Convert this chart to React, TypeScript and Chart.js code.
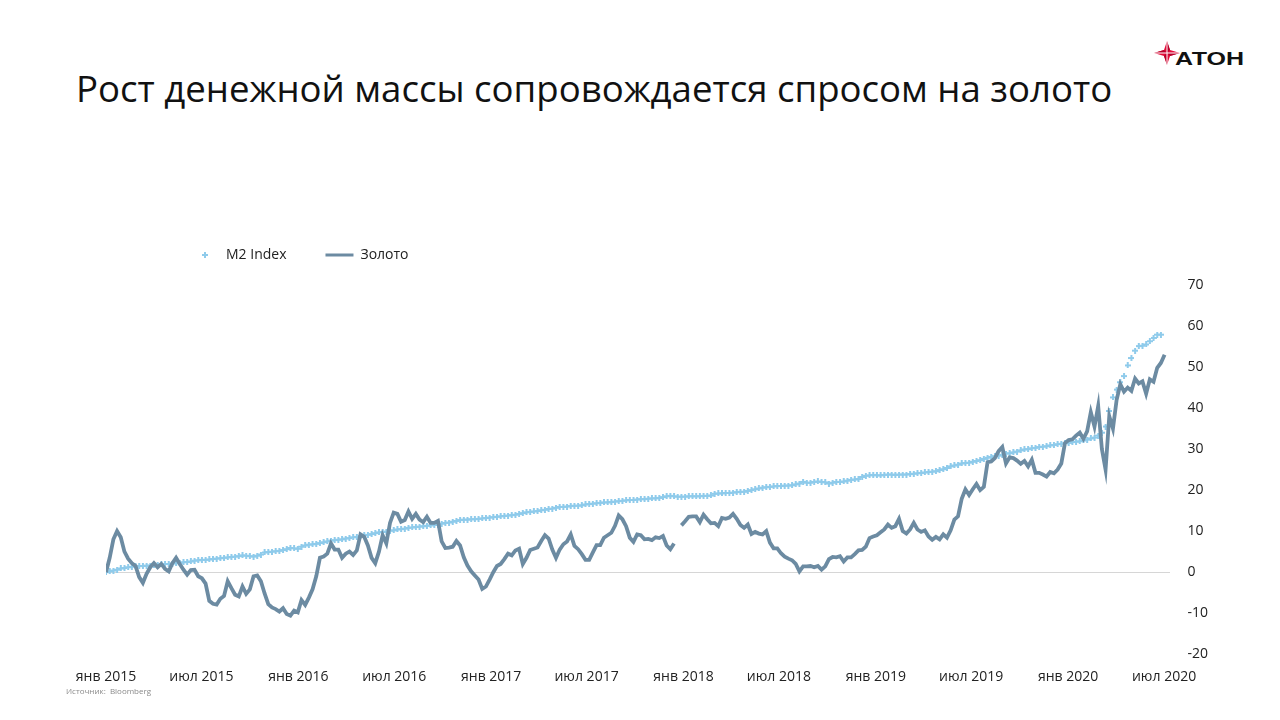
import React, { useEffect, useRef } from 'react';
import { Chart, registerables } from 'chart.js';

Chart.register(...registerables);

const FONT = '"Open Sans", "Noto Sans", sans-serif';

const titleText = 'Рост денежной массы сопровождается спросом на золото';
const sourceText = 'Источник:  Bloomberg';
const seriesNames = ['M2 Index', 'Золото'];

// x-axis ticks: first day of month (year, month index)
const tickMonths: [number, number][] = [
  [2015, 0], [2015, 6], [2016, 0], [2016, 6], [2017, 0], [2017, 6],
  [2018, 0], [2018, 6], [2019, 0], [2019, 6], [2020, 0], [2020, 6],
];
const tickLabels = [
  'янв 2015', 'июл 2015', 'янв 2016', 'июл 2016', 'янв 2017', 'июл 2017',
  'янв 2018', 'июл 2018', 'янв 2019', 'июл 2019', 'янв 2020', 'июл 2020',
];
const yTicks = [-20, -10, 0, 10, 20, 30, 40, 50, 60, 70];

// weekly observations from the first week of 2015, % change since start
const goldValues: (number | null)[] = [
  0, 3.5, 8, 10, 8.5, 5, 3.3, 2.2, 1.5, -1.2,
  -2.6, -0.4, 1.2, 2.2, 1.2, 2.0, 0.8, 0.2, 2.2, 3.5,
  2.0, 0.6, -0.6, 0.5, 0.6, -1.0, -1.5, -2.8, -7.0, -7.7,
  -7.9, -6.5, -5.8, -2.2, -3.9, -5.5, -5.9, -3.5, -5.3, -4.2,
  -1.0, -0.8, -2.2, -5.2, -7.8, -8.6, -9.0, -9.6, -8.8, -10.2,
  -10.6, -9.4, -9.8, -6.8, -8.0, -6.2, -4.2, -1.0, 3.5, 3.8,
  4.5, 7.0, 5.5, 5.5, 3.5, 4.5, 5.0, 4.2, 5.3, 9.2,
  8.6, 6.5, 3.5, 2.2, 5.0, 9.0, 7.0, 12.0, 14.5, 14.2,
  12.3, 12.7, 14.8, 13.0, 14.2, 12.8, 12.2, 13.5, 12.0, 12.0,
  12.5, 7.5, 5.9, 6.0, 6.2, 7.6, 6.5, 3.6, 1.6, 0.2,
  -0.8, -1.8, -4.1, -3.5, -1.8, 0, 1.5, 2.0, 3.2, 4.5,
  4.1, 5.3, 5.7, 2.0, 3.5, 5.4, 5.7, 6.0, 7.6, 9.0,
  8.2, 5.5, 3.5, 5.5, 6.8, 7.5, 9.2, 6.4, 5.6, 4.4,
  3.0, 3.0, 4.8, 6.6, 6.6, 8.4, 9.0, 9.6, 11.3, 13.8,
  12.9, 11.2, 8.4, 7.4, 9.2, 9.0, 8.0, 8.1, 7.8, 8.5,
  8.3, 8.8, 6.5, 5.6, 7.0, null, 11.4, 12.4, 13.5, 13.6,
  13.6, 12.2, 14.0, 12.9, 11.9, 12.0, 11.2, 13.2, 13.0, 13.3,
  14.2, 13.0, 11.5, 10.8, 11.6, 9.3, 9.8, 9.4, 9.2, 10.0,
  7.2, 5.8, 5.8, 4.6, 3.8, 3.3, 2.9, 2.0, 0.2, 1.4,
  1.4, 1.5, 1.2, 1.5, 0.6, 1.4, 3.2, 3.7, 3.6, 3.9,
  2.6, 3.6, 3.6, 4.4, 5.3, 5.4, 6.2, 8.3, 8.7, 9.0,
  9.7, 10.4, 11.6, 10.8, 11.2, 13.0, 10.0, 9.4, 10.4, 12.0,
  10.4, 9.8, 10.2, 8.7, 7.9, 8.6, 8.0, 9.2, 8.4, 10.2,
  12.8, 13.6, 17.9, 20.2, 18.8, 20.2, 21.5, 20.0, 20.8, 26.8,
  27.0, 27.8, 29.5, 30.5, 26.5, 28.0, 27.8, 27.2, 26.4, 27.1,
  25.8, 27.4, 24.2, 24.2, 23.8, 23.3, 24.4, 24.1, 25.0, 26.5,
  31.5, 32.2, 32.4, 33.3, 34.0, 32.5, 34.3, 39.0, 35.5, 40.5,
  30.0, 25.0, 38.0, 35.0, 42.0, 45.8, 44.0, 45.0, 44.2, 47.2,
  46.0, 46.5, 43.5, 47.0, 46.4, 49.8, 51.0, 53.0,
];

const m2Values: number[] = [
  0.0, 0.2, 0.4, 0.6, 0.9, 1.0, 1.2, 1.3, 1.4, 1.5,
  1.5, 1.6, 1.6, 1.7, 1.8, 1.9, 2.0, 2.0, 2.1, 2.2,
  2.3, 2.4, 2.5, 2.6, 2.8, 2.9, 3.0, 3.0, 3.1, 3.2,
  3.3, 3.4, 3.5, 3.6, 3.7, 3.8, 3.9, 4.1, 4.0, 3.9,
  3.8, 4.0, 4.3, 4.8, 4.9, 5.0, 5.1, 5.2, 5.4, 5.6,
  5.9, 5.8, 5.7, 6.2, 6.5, 6.7, 6.8, 6.9, 7.1, 7.3,
  7.5, 7.7, 7.8, 7.9, 8.0, 8.2, 8.3, 8.5, 8.6, 8.8,
  9.0, 9.1, 9.3, 9.5, 9.7, 9.8, 9.9, 10.1, 10.2, 10.4,
  10.5, 10.6, 10.8, 10.9, 11.0, 11.1, 11.2, 11.3, 11.4, 11.5,
  11.6, 11.8, 12.0, 12.1, 12.3, 12.5, 12.7, 12.8, 12.8, 12.9,
  12.9, 13.0, 13.1, 13.2, 13.3, 13.4, 13.5, 13.6, 13.7, 13.8,
  13.9, 14.0, 14.2, 14.4, 14.6, 14.7, 14.8, 14.9, 15.1, 15.2,
  15.4, 15.5, 15.7, 15.9, 15.9, 16.0, 16.1, 16.2, 16.2, 16.3,
  16.5, 16.6, 16.7, 16.8, 16.9, 17.0, 17.0, 17.1, 17.2, 17.3,
  17.4, 17.5, 17.6, 17.6, 17.7, 17.8, 17.8, 17.9, 18.0, 18.0,
  18.1, 18.3, 18.5, 18.6, 18.5, 18.4, 18.4, 18.4, 18.5, 18.5,
  18.5, 18.5, 18.6, 18.6, 18.7, 19.1, 19.2, 19.2, 19.3, 19.3,
  19.4, 19.5, 19.6, 19.6, 19.8, 20.0, 20.2, 20.4, 20.6, 20.7,
  20.8, 20.9, 21.0, 21.0, 21.1, 21.1, 21.2, 21.4, 21.6, 22.0,
  21.8, 21.8, 22.0, 22.1, 22.0, 21.9, 21.6, 21.8, 22.0, 22.0,
  22.1, 22.3, 22.5, 22.6, 22.7, 23.2, 23.5, 23.6, 23.7, 23.6,
  23.6, 23.7, 23.8, 23.8, 23.7, 23.8, 23.8, 23.8, 23.9, 24.0,
  24.1, 24.2, 24.3, 24.4, 24.5, 24.6, 24.9, 25.1, 25.4, 25.8,
  26.0, 26.2, 26.5, 26.6, 26.7, 26.9, 27.1, 27.3, 27.6, 27.9,
  28.1, 28.3, 28.4, 28.6, 28.9, 29.0, 29.2, 29.4, 29.7, 29.9,
  30.0, 30.2, 30.3, 30.5, 30.6, 30.7, 30.9, 31.0, 31.2, 31.3,
  31.4, 31.5, 31.7, 31.8, 31.9, 32.1, 32.3, 32.6, 32.8, 33.3,
  34.0, 35.5, 39.3, 42.6, 44.5, 46.3, 47.8, 50.4, 52.2, 54.0,
  55.1, 55.2, 55.5, 56.3, 57.1, 57.9, 57.9,
];

const GOLD_COLOR = '#6C8BA2';
const M2_COLOR = '#8FCBEB';
const TEXT_COLOR = '#222222';

const START_MS = Date.UTC(2015, 0, 1);
const WEEK_MS = 7 * 24 * 3600 * 1000;
const tickPositions = tickMonths.map(([y, m]) => (Date.UTC(y, m, 1) - START_MS) / WEEK_MS);

function makePlusIcon(color: string): HTMLCanvasElement {
  const c = document.createElement('canvas');
  c.width = 6;
  c.height = 6;
  const g = c.getContext('2d')!;
  g.fillStyle = color;
  g.fillRect(2, 0, 2, 6);
  g.fillRect(0, 2, 6, 2);
  return c;
}

// place the legend row left-aligned above the plot, as in the source slide
const legendPlacer = {
  id: 'legendPlacer',
  afterLayout(chart: any) {
    const lg = chart.legend;
    if (!lg) return;
    const dy = 209 - lg.top;
    lg.left = 152;
    lg.top += dy;
    lg.bottom += dy;
  },
};

export default function App() {
  const canvasRef = useRef<HTMLCanvasElement | null>(null);

  useEffect(() => {
    if (!canvasRef.current) return;
    const plus = makePlusIcon(M2_COLOR);
    const chart = new Chart(canvasRef.current, {
      type: 'line',
      data: {
        datasets: [
          {
            label: seriesNames[0],
            data: m2Values.map((v, i) => ({ x: i, y: v })),
            showLine: false,
            pointStyle: plus as any,
            pointRadius: 3,
            pointBackgroundColor: M2_COLOR,
            pointBorderColor: M2_COLOR,
            borderColor: M2_COLOR,
            backgroundColor: M2_COLOR,
            order: 1,
          },
          {
            label: seriesNames[1],
            data: goldValues.map((v, i) => ({ x: i, y: v })),
            borderColor: GOLD_COLOR,
            backgroundColor: GOLD_COLOR,
            borderWidth: 3.8,
            pointRadius: 0,
            pointStyle: 'line',
            pointBorderColor: GOLD_COLOR,
            pointBorderWidth: 3,
            tension: 0,
            spanGaps: false,
            order: 0,
          },
        ],
      },
      options: {
        animation: false,
        responsive: false,
        maintainAspectRatio: false,
        layout: { padding: { left: 106, right: 55, top: 222, bottom: 21 } },
        plugins: {
          legend: {
            position: 'top',
            align: 'start',
            labels: {
              usePointStyle: true,
              pointStyleWidth: 28,
              boxHeight: 5,
              padding: 39,
              color: TEXT_COLOR,
              font: { family: FONT, size: 14 },
              sort: (a: any, b: any) => a.datasetIndex - b.datasetIndex,
            },
          },
          tooltip: { enabled: false },
        },
        scales: {
          x: {
            type: 'linear',
            min: 0,
            max: 288.6,
            afterBuildTicks: (scale: any) => {
              scale.ticks = tickPositions.map((v) => ({ value: v }));
            },
            ticks: {
              autoSkip: false,
              maxRotation: 0,
              padding: 14,
              color: TEXT_COLOR,
              font: { family: FONT, size: 14 },
              callback: (_v: any, i: number) => tickLabels[i],
            },
            grid: { display: false, drawTicks: false },
            border: { display: false },
          },
          y: {
            position: 'right',
            min: -20,
            max: 70,
            afterBuildTicks: (scale: any) => {
              scale.ticks = yTicks.map((v) => ({ value: v }));
            },
            ticks: {
              padding: 17,
              color: TEXT_COLOR,
              font: { family: FONT, size: 14 },
            },
            grid: {
              drawTicks: false,
              lineWidth: 1,
              color: (ctx: any) => (ctx.tick && ctx.tick.value === 0 ? '#D6D6D6' : 'rgba(0,0,0,0)'),
            },
            border: { display: false },
          },
        },
      },
      plugins: [legendPlacer],
    } as any);
    return () => chart.destroy();
  }, []);

  return (
    <div style={{ position: 'absolute', left: 0, top: 0, width: 1280, height: 720, background: '#fff', overflow: 'hidden' }}>
      <div
        style={{
          position: 'absolute',
          left: 76,
          top: 70,
          fontFamily: FONT,
          fontSize: 36.6,
          lineHeight: 1,
          color: '#111',
          whiteSpace: 'nowrap',
        }}
      >
        {titleText}
      </div>
      <svg style={{ position: 'absolute', left: 1150, top: 36 }} width={100} height={34} viewBox="0 0 100 34">
        <polygon points="17,5 20,14 30,17 20,20 17,29 14,20 4,17 14,14" fill="#E30D3A" />
        <polygon points="17,5 20,14 17,17" fill="#B8002A" />
        <polygon points="30,17 20,20 17,17" fill="#B8002A" />
        <polygon points="17,29 14,20 17,17" fill="#B8002A" />
        <polygon points="4,17 14,14 17,17" fill="#B8002A" />
        <line x1="2" y1="17" x2="32" y2="17" stroke="#fff" strokeWidth="1" />
        <line x1="17" y1="3" x2="17" y2="31" stroke="#fff" strokeWidth="1" />
        <text
          x="25"
          y="29"
          textLength="69"
          lengthAdjust="spacingAndGlyphs"
          fontFamily='"Liberation Sans", Arial, sans-serif'
          fontWeight="bold"
          fontSize="18"
          fill="#111"
        >
          АТОН
        </text>
      </svg>
      <canvas ref={canvasRef} width={1280} height={720} style={{ position: 'absolute', left: 0, top: 0 }} />
      <div
        style={{
          position: 'absolute',
          left: 66,
          top: 685,
          fontFamily: FONT,
          fontSize: 8,
          color: '#8A8A8A',
          whiteSpace: 'pre',
        }}
      >
        {sourceText}
      </div>
    </div>
  );
}
